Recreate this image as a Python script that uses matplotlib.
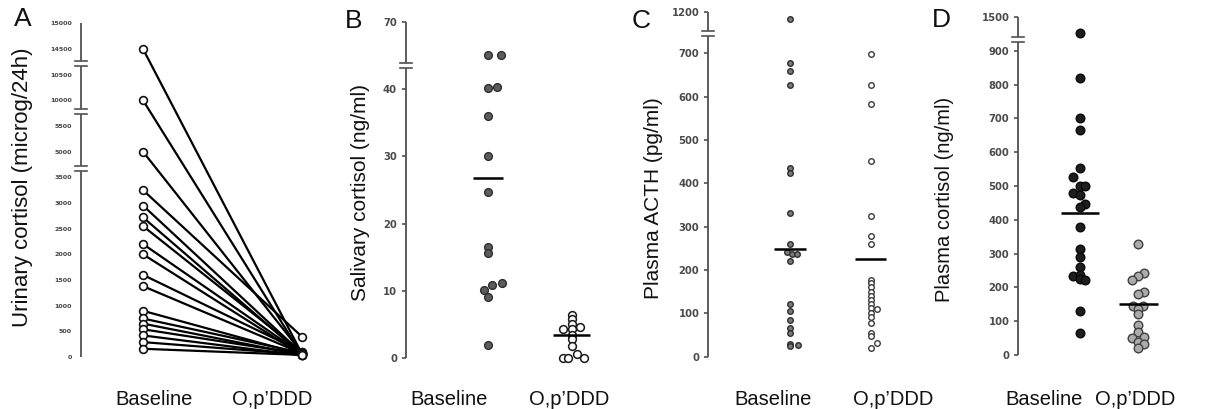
import numpy as np
import matplotlib
matplotlib.use("Agg")
import matplotlib.pyplot as plt
from matplotlib import transforms

# ---------------- data ----------------
groups = ["Baseline", "O,p\u2019DDD"]

# A: urinary cortisol (microg/24h), paired
a_base = [14500, 10000, 5000, 3250, 2950, 2720, 2550, 2200, 2000, 1600, 1380,
          900, 750, 650, 540, 420, 290, 160]
a_opddd = [60, 40, 80, 395, 70, 50, 90, 60, 40, 100, 70, 50, 80, 40, 60, 30, 50, 40]
a_ticks = [0, 500, 1000, 1500, 2000, 2500, 3000, 3500, 5000, 5500, 10000, 10500, 14500, 15000]

# B: salivary cortisol (ng/ml)
b_base = [55, 55, 40.6, 41.0, 36.0, 30.1, 24.7, 16.6, 15.6, 10.9, 10.15, 9.15, 11.2, 2.0]
b_opddd = [6.5, 5.8, 5.1, 4.3, 4.3, 4.6, 3.4, 2.8, 1.8, 0.1, 0.1, 0.6, 0.1]
b_means = [26.8, 3.5]
b_ticks = [0, 10, 20, 30, 40, 70]

# C: plasma ACTH (pg/ml)
c_base = [1109, 678, 659, 627, 435, 423, 331, 260, 241, 237, 237, 221, 121, 105,
          85, 67, 54, 29, 25, 26]
c_opddd = [698, 627, 583, 451, 324, 278, 260, 177, 169, 160, 150, 140, 131, 121,
           112, 111, 101, 92, 78, 55, 48, 32, 19]
c_means = [248, 225]
c_ticks = [0, 100, 200, 300, 400, 500, 600, 700, 1200]

# D: plasma cortisol (ng/ml)
d_base = [1210, 820, 700, 666, 552, 527, 500, 500, 480, 473, 447, 437, 380, 313,
          291, 260, 234, 237, 224, 222, 131, 66]
d_opddd = [328, 243, 234, 222, 187, 180, 145, 145, 135, 121, 89, 69, 49, 54, 39, 34, 20]
d_means = [421, 151]
d_ticks = [0, 100, 200, 300, 400, 500, 600, 700, 800, 900, 1500]

# ---------------- layout / style (jitter offsets are layout) ----------------
b_base_dx = [0, 0.15, 0, 0.10, 0, 0, 0, 0, 0, 0.05, -0.05, 0, 0.16, 0]
b_op_dx = [0, 0, 0, -0.10, 0, 0.10, 0, 0, 0, -0.11, -0.04, 0.06, 0.15]
c_base_dx = [0] * 8 + [-0.04, 0.03, 0.09] + [0] * 8 + [0.10]
c_op_dx = [0] * 15 + [0.075] + [0] * 5 + [0.075, 0]
d_base_dx = [0, 0, 0, 0, 0, -0.125, 0, 0.09, -0.125, 0, 0.09, 0, 0, 0, 0, 0, -0.125, 0, 0, 0.09, 0, 0]
d_op_dx = [0, 0.1, 0, -0.11, 0.1, 0, -0.09, 0.075, 0, 0, 0, 0, -0.11, 0.1, 0, 0.1, 0]

W, H = 1219, 409
fig = plt.figure(figsize=(W / 100, H / 100), dpi=100)

LABEL_FONT = ["Liberation Sans", "DejaVu Sans"]
TICK_FONT = ["DejaVu Sans"]
SPINE_C = "#505050"


def piecewise(vals, poss):
    vals = np.asarray(vals, float)
    poss = np.asarray(poss, float)

    def mk(xs, ys):
        s0 = (ys[1] - ys[0]) / (xs[1] - xs[0])
        s1 = (ys[-1] - ys[-2]) / (xs[-1] - xs[-2])

        def f(v):
            v = np.asarray(v, float)
            out = np.interp(v, xs, ys)
            out = np.where(v < xs[0], ys[0] + (v - xs[0]) * s0, out)
            out = np.where(v > xs[-1], ys[-1] + (v - xs[-1]) * s1, out)
            return out
        return f
    return mk(vals, poss), mk(poss, vals)


def make_axes(L, R, T, B, xb, u):
    ax = fig.add_axes([L / W, (H - B) / H, (R - L) / W, (B - T) / H])
    ax.set_xlim((L - xb) / u, (R - xb) / u)
    for s in ax.spines.values():
        s.set_visible(False)
    ax.patch.set_visible(False)
    ax.set_xticks([])
    return ax


def setup_y(ax, vals, poss, ylim, ticks, breaks, gap_px, tick_fs, tick_len,
            tick_weight="normal", pad=3.0, ticks_only_ends=False, tick_color="#3a3a3a"):
    fwd, inv = piecewise(vals, poss)
    ax.set_yscale("function", functions=(fwd, inv))
    ax.set_ylim(*ylim)
    ax.set_yticks(ticks)
    ax.set_yticklabels([str(t) for t in ticks], fontsize=tick_fs, color=tick_color,
                       family=TICK_FONT, fontweight=tick_weight)
    if ticks_only_ends:
        ax.tick_params(axis="y", which="major", length=0, pad=pad + tick_len)
        ax.set_yticks([ylim[0], ylim[1]], minor=True)
        ax.tick_params(axis="y", which="minor", length=tick_len, width=1.2, color=SPINE_C)
    else:
        ax.tick_params(axis="y", which="major", length=tick_len, width=1.2,
                       color=SPINE_C, pad=pad)
    bbox = ax.get_position()
    ax_h_px = bbox.height * H
    ax_w_px = bbox.width * W
    p0, p1 = fwd(ylim[0]), fwd(ylim[1])
    ppx = (p1 - p0) / ax_h_px
    g = gap_px * ppx / 2
    tr = ax.get_yaxis_transform()
    edges = [p0]
    for b in breaks:
        edges += [b - g, b + g]
    edges.append(p1)
    for i in range(0, len(edges), 2):
        ax.plot([0, 0], [inv(edges[i]), inv(edges[i + 1])], color=SPINE_C, lw=1.3,
                transform=tr, clip_on=False, solid_capstyle="butt")
    hw = 6.0 / ax_w_px
    for b in breaks:
        for yy in (b - g, b + g):
            ax.plot([-hw, hw], [inv(yy), inv(yy)], color=SPINE_C, lw=1.2,
                    transform=tr, clip_on=False)
    return fwd, inv


def xlabels(ax, positions):
    tr = transforms.blended_transform_factory(ax.transData, fig.transFigure)
    for p, lab in zip(positions, groups):
        ax.text(p, 1 - 405 / H, lab, transform=tr, ha="center", va="baseline",
                fontsize=14.5, family=LABEL_FONT, color="#111111")


def ylabel(x, y, s, fs):
    fig.text(x / W, 1 - y / H, s, rotation=90, ha="center", va="center",
             fontsize=fs, family=LABEL_FONT, color="#111111")


def letter(x, y, s):
    fig.text(x / W, 1 - y / H, s, ha="center", va="baseline", fontsize=19,
             family=LABEL_FONT, color="#111111")


TK = dict(tick_weight="bold", tick_color="#4a4a4a", pad=3.5)

# ---------------- Panel A ----------------
axA = make_axes(80.5, 325, 357 - 13 * 25.67, 357, 143, 159)
setup_y(axA, [0, 3500, 5000, 5500, 10000, 10500, 14500, 15000],
        [0, 7, 8, 9, 10, 11, 12, 13], (0, 15000), a_ticks,
        [7.35, 9.57, 11.43], 4.7, 4.6, 3.5, tick_weight="bold", pad=2.5,
        ticks_only_ends=True, tick_color="#444444")
for yb, yo in zip(a_base, a_opddd):
    axA.plot([0, 1], [yb, yo], color="black", lw=1.6, zorder=2, clip_on=False)
axA.plot(np.zeros(len(a_base)), a_base, "o", ms=5.6, mfc="white", mec="#111111",
         mew=1.2, zorder=3, clip_on=False)
axA.plot(np.ones(len(a_opddd)), a_opddd, "o", ms=5.6, mfc="white", mec="#111111",
         mew=1.2, zorder=3, clip_on=False)
xlabels(axA, [0.068, 0.814])
ylabel(23, 187, "Urinary cortisol (microg/24h)", 16)
letter(23, 26, "A")

# ---------------- Panel B ----------------
axB = make_axes(406, 615, 358.3 - 50 * 6.73, 358.3, 488.3, 83.4)
setup_y(axB, [0, 40, 70], [0, 40, 50], (0, 70), b_ticks, [43.5], 5.6, 7.2, 3.0, **TK)
axB.plot(np.array(b_base_dx), b_base, "o", ms=5.6, mfc="#5c5c5c", mec="#2e2e2e",
         mew=1.0, zorder=3, clip_on=False)
axB.plot(1 + np.array(b_op_dx), b_opddd, "o", ms=5.6, mfc="white", mec="#1a1a1a",
         mew=1.1, zorder=3, clip_on=False)
axB.hlines(b_means[0], -0.18, 0.18, color="black", lw=1.8, zorder=4)
axB.hlines(b_means[1], 1 - 0.22, 1 + 0.22, color="black", lw=1.8, zorder=4)
xlabels(axB, [-0.471, 0.970])
ylabel(360, 192.5, "Salivary cortisol (ng/ml)", 15)
letter(354, 28.3, "B")

# ---------------- Panel C ----------------
axC = make_axes(708.3, 910, 356.7 - 796 * 0.4333, 356.7, 790, 80.7)
setup_y(axC, [0, 700, 1200], [0, 700, 796], (0, 1200), c_ticks, [747], 5.0, 7.2, 3.0, **TK)
axC.plot(np.array(c_base_dx), c_base, "o", ms=4.0, mfc="#7a7a7a", mec="#2e2e2e",
         mew=1.0, zorder=3, clip_on=False)
axC.plot(1 + np.array(c_op_dx), c_opddd, "o", ms=4.0, mfc="white", mec="#3a3a3a",
         mew=1.0, zorder=3, clip_on=False)
axC.hlines(c_means[0], -0.2, 0.2, color="black", lw=1.8, zorder=4)
axC.hlines(c_means[1], 1 - 0.19, 1 + 0.19, color="black", lw=1.8, zorder=4)
xlabels(axC, [-0.213, 1.276])
ylabel(654, 198.5, "Plasma ACTH (pg/ml)", 15)
letter(641, 28.3, "C")

# ---------------- Panel D ----------------
axD = make_axes(1018.3, 1210, 355 - 1000 * 0.338, 355, 1080, 58.3)
setup_y(axD, [0, 900, 1500], [0, 900, 1000], (0, 1500), d_ticks, [933], 4.4, 7.2, 3.0, **TK)
axD.plot(np.array(d_base_dx), d_base, "o", ms=6.2, mfc="#1e1e1e", mec="#0a0a0a",
         mew=1.0, zorder=3, clip_on=False)
axD.plot(1 + np.array(d_op_dx), d_opddd, "o", ms=6.2, mfc="#ababab", mec="#404040",
         mew=1.0, zorder=3, clip_on=False)
axD.hlines(d_means[0], -0.33, 0.33, color="black", lw=1.8, zorder=4)
axD.hlines(d_means[1], 1 - 0.33, 1 + 0.33, color="black", lw=1.8, zorder=4)
xlabels(axD, [-0.617, 0.943])
ylabel(945, 199.5, "Plasma cortisol (ng/ml)", 14.5)
letter(941, 26.7, "D")

fig.savefig("out.png", dpi=100)
